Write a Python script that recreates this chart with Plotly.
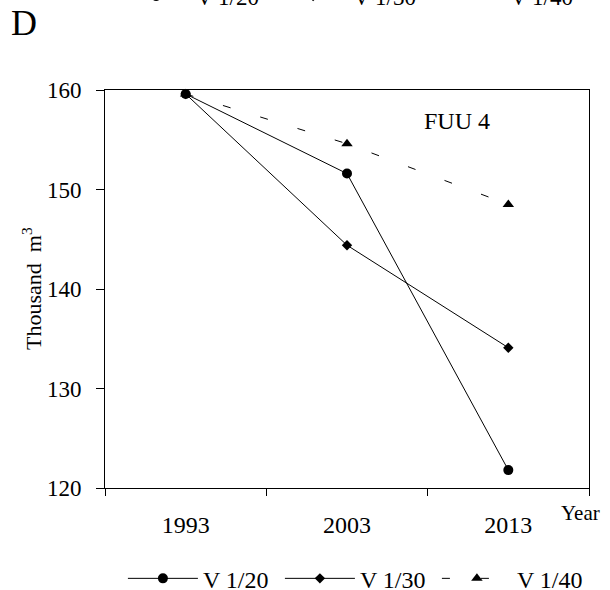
import plotly.graph_objects as go

years = ["1993", "2003", "2013"]
v20 = [159.6, 151.6, 121.8]
v30 = [159.6, 144.4, 134.1]
v40 = [159.6, 154.6, 148.5]
names = ["V 1/20", "V 1/30", "V 1/40"]
y_ticks = [120, 130, 140, 150, 160]

FONT = "Liberation Serif"
fig = go.Figure()

# draw order: V1/40 first (underneath), then V1/30, then V1/20
fig.add_trace(go.Scatter(x=years, y=v40, name=names[2], mode="lines+markers",
                         line=dict(color="black", width=1, dash="8px,31px"),
                         marker=dict(symbol="triangle-up", size=10, color="black"),
                         legendrank=3, cliponaxis=False))
fig.add_trace(go.Scatter(x=years, y=v30, name=names[1], mode="lines+markers",
                         line=dict(color="black", width=1),
                         marker=dict(symbol="diamond", size=8, color="black"),
                         legendrank=2, cliponaxis=False))
fig.add_trace(go.Scatter(x=years, y=v20, name=names[0], mode="lines+markers",
                         line=dict(color="black", width=1),
                         marker=dict(symbol="circle", size=10, color="black"),
                         legendrank=1, cliponaxis=False))

# cut-off legend row at the top (from the panel above)
for i, (nm, sym, sz, dash) in enumerate([(names[0], "circle", 10, "solid"),
                                          (names[1], "diamond", 8, "solid"),
                                          (names[2], "triangle-up", 10, "8px,31px")]):
    fig.add_trace(go.Scatter(x=[None], y=[None], name=nm, mode="lines+markers",
                             line=dict(color="black", width=1, dash=dash),
                             marker=dict(symbol=sym, size=sz, color="black"),
                             legend="legend2", legendrank=i + 1))

fig.update_layout(
    width=610, height=590,
    margin=dict(l=105, r=21, t=90, b=102, autoexpand=False),
    plot_bgcolor="white", paper_bgcolor="white",
    font=dict(family=FONT, size=22, color="black"),
    xaxis=dict(type="category", categoryorder="array", categoryarray=years,
               range=[-0.5, 2.5], autorange=False,
               tickson="boundaries", ticks="outside", ticklen=7, tickcolor="black",
               showline=True, linecolor="black", linewidth=1, mirror=True,
               showgrid=False, ticklabelstandoff=15,
               tickfont=dict(family=FONT, size=24)),
    yaxis=dict(range=[120, 160], tickvals=y_ticks, ticks="outside", ticklen=8,
               tickcolor="black", showline=True, linecolor="black", linewidth=1,
               mirror=True, showgrid=False, zeroline=False, ticklabelstandoff=10,
               tickfont=dict(family=FONT, size=23)),
    legend=dict(orientation="h", x=0.037, xanchor="left", y=-0.228, yanchor="middle",
                font=dict(family=FONT, size=24), itemwidth=70,
                entrywidth=72, entrywidthmode="pixels", bgcolor="rgba(0,0,0,0)"),
    legend2=dict(orientation="h", x=0.023, xanchor="left", y=1.236, yanchor="middle",
                 font=dict(family=FONT, size=23), itemwidth=70,
                 entrywidth=72, entrywidthmode="pixels", bgcolor="rgba(0,0,0,0)"),
    showlegend=True,
)

fig.add_annotation(text="D", xref="paper", yref="paper",
                   x=(24 - 105) / 484, y=1 + (90.5 - 24) / 397,
                   xanchor="center", yanchor="middle", showarrow=False,
                   font=dict(family=FONT, size=36))
fig.add_annotation(text="Thousand  m<sup>3</sup>", xref="paper", yref="paper",
                   x=(32 - 105) / 484, y=0.5, textangle=-90,
                   xanchor="center", yanchor="middle", showarrow=False,
                   font=dict(family=FONT, size=22))
fig.add_annotation(text="Year", xref="paper", yref="paper",
                   x=(580 - 105) / 484, y=(487.5 - 512) / 397,
                   xanchor="center", yanchor="middle", showarrow=False,
                   font=dict(family=FONT, size=21))
fig.add_annotation(text="FUU 4", xref="paper", yref="paper",
                   x=(457 - 105) / 484, y=(487.5 - 121) / 397,
                   xanchor="center", yanchor="middle", showarrow=False,
                   font=dict(family=FONT, size=24))

fig.write_html("out.html", config={"displayModeBar": False},
               post_script="document.body.style.margin='0';")
